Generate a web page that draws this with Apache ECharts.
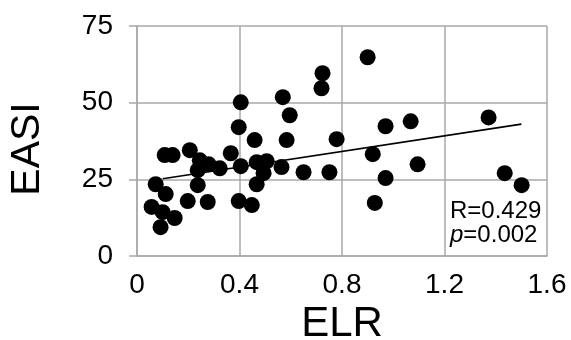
<!DOCTYPE html>
<html>
<head>
<meta charset="utf-8">
<script src="https://cdn.jsdelivr.net/npm/echarts@6/dist/echarts.min.js"></script>
<style>html,body{margin:0;padding:0;background:#fff;}#c{width:571px;height:340px;}</style>
</head>
<body>
<div id="c"></div>
<script>
// ELR values (x) of each subject
const ELR = [0.108, 0.139, 0.206, 0.245, 0.280, 0.237, 0.323, 0.366, 0.405, 0.397,
             0.405, 0.073, 0.112, 0.057, 0.100, 0.147, 0.092, 0.237, 0.198, 0.276,
             0.397, 0.448, 0.459, 0.584, 0.467, 0.506, 0.564, 0.494, 0.467, 0.650,
             0.569, 0.596, 0.720, 0.724, 0.900, 0.779, 0.751, 0.920, 0.970, 1.068,
             1.095, 0.970, 0.928, 1.372, 1.435, 1.501];
// EASI values (y) of each subject
const EASI = [32.9, 32.9, 34.5, 31.2, 29.9, 28.0, 28.6, 33.5, 29.3, 42.0,
              50.1, 23.4, 20.2, 16.0, 14.3, 12.4, 9.4, 23.1, 17.9, 17.6,
              17.9, 16.6, 37.8, 37.8, 30.6, 30.9, 29.0, 27.0, 23.4, 27.3,
              51.8, 45.9, 54.7, 59.6, 64.8, 38.1, 27.3, 33.2, 42.3, 43.9,
              29.9, 25.4, 17.3, 45.2, 27.0, 23.1];
// Regression line end points
const TREND_X = [0.1, 1.5];
const TREND_Y = [25.2, 43.0];
// Axis ticks
const X_TICKS = [0, 0.4, 0.8, 1.2, 1.6];
const Y_TICKS = [0, 25, 50, 75];
const ANNOT_R = 'R=0.429';
const ANNOT_P = '=0.002';

const FONT = "'Liberation Sans', Arial, sans-serif";
const chart = echarts.init(document.getElementById('c'), null, {renderer: 'canvas'});
const pts = ELR.map((x, i) => [x, EASI[i]]);
const trend = TREND_X.map((x, i) => [x, TREND_Y[i]]);
const gridColor = '#a8a8a8';

chart.setOption({
  animation: false,
  backgroundColor: '#fff',
  grid: {left: 137, right: 24, top: 26, bottom: 84, containLabel: false, outerBoundsMode: 'none'},
  xAxis: {
    type: 'value', min: X_TICKS[0], max: X_TICKS[X_TICKS.length - 1], interval: 0.4,
    name: 'ELR', nameLocation: 'middle', nameGap: 44,
    nameTextStyle: {fontFamily: FONT, fontSize: 42, color: '#000'},
    axisLine: {show: true, lineStyle: {color: gridColor, width: 1.5}},
    axisTick: {show: false},
    splitLine: {show: true, lineStyle: {color: gridColor, width: 1.5}},
    axisLabel: {fontFamily: FONT, fontSize: 28, color: '#000', margin: 15,
      formatter: v => String(Math.round(v * 10) / 10)}
  },
  yAxis: {
    type: 'value', min: Y_TICKS[0], max: Y_TICKS[Y_TICKS.length - 1], interval: 25,
    name: 'EASI', nameLocation: 'middle', nameGap: 89,
    nameTextStyle: {fontFamily: FONT, fontSize: 41, color: '#000', padding: [0, 16, 0, 0]},
    axisLine: {show: true, lineStyle: {color: gridColor, width: 1.5}},
    axisTick: {show: true, inside: false, length: 8, lineStyle: {color: gridColor, width: 1.5}},
    splitLine: {show: true, lineStyle: {color: gridColor, width: 1.5}},
    axisLabel: {fontFamily: FONT, fontSize: 28, color: '#000', margin: 24}
  },
  series: [
    {
      type: 'line', data: trend, symbol: 'none', silent: true,
      lineStyle: {color: '#000', width: 1.6}, z: 3
    },
    {
      type: 'scatter', data: pts, symbol: 'circle', symbolSize: 16,
      itemStyle: {color: '#000', opacity: 1}, z: 2
    }
  ],
  graphic: [{
    type: 'text', left: 450, top: 199, z: 10,
    style: {
      text: '{a|' + ANNOT_R + '}\n{b|p}{a|' + ANNOT_P + '}',
      rich: {
        a: {fontFamily: FONT, fontSize: 24, fill: '#000', lineHeight: 24},
        b: {fontFamily: FONT, fontSize: 24, fill: '#000', lineHeight: 24, fontStyle: 'italic'}
      }
    }
  }]
});
</script>
</body>
</html>
